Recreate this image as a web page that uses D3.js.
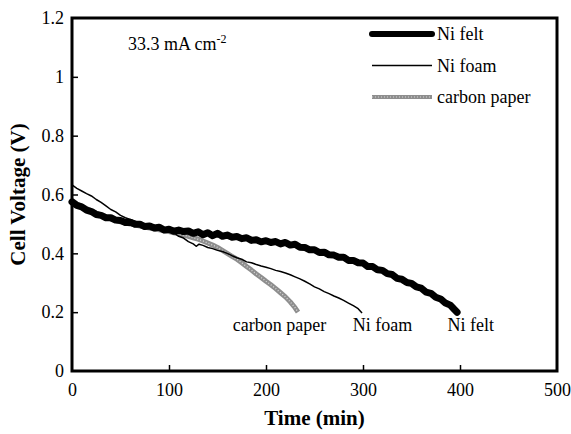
<!DOCTYPE html>
<html>
<head>
<meta charset="utf-8">
<script src="https://cdn.jsdelivr.net/npm/d3@7"></script>
<style>
  body { margin: 0; background: #fff; }
  svg text { font-family: "Liberation Serif", "Times New Roman", serif; fill: #000; }
</style>
</head>
<body>
<svg id="chart" width="571" height="434"></svg>
<script>
// time (min) / cell voltage (V)
const feltT = [0, 5, 10, 15, 20, 25, 30, 35, 40, 45, 50, 55, 60, 65, 70, 75, 80, 85, 90, 95, 100, 105, 110, 115, 120, 125, 130, 135, 140, 145, 150, 155, 160, 165, 170, 175, 180, 185, 190, 195, 200, 205, 210, 215, 220, 225, 230, 235, 240, 245, 250, 255, 260, 265, 270, 275, 280, 285, 290, 295, 300, 305, 310, 315, 320, 325, 330, 335, 340, 345, 350, 355, 360, 365, 370, 375, 380, 385, 390, 394, 397];
const feltV = [0.575, 0.563, 0.558, 0.547, 0.542, 0.532, 0.529, 0.521, 0.521, 0.513, 0.512, 0.505, 0.506, 0.499, 0.499, 0.491, 0.493, 0.486, 0.489, 0.479, 0.482, 0.475, 0.479, 0.474, 0.476, 0.468, 0.473, 0.463, 0.470, 0.460, 0.468, 0.458, 0.462, 0.455, 0.457, 0.450, 0.453, 0.444, 0.446, 0.439, 0.443, 0.437, 0.440, 0.432, 0.437, 0.428, 0.431, 0.421, 0.420, 0.412, 0.412, 0.403, 0.404, 0.395, 0.394, 0.387, 0.387, 0.376, 0.376, 0.368, 0.367, 0.355, 0.355, 0.344, 0.342, 0.331, 0.328, 0.315, 0.312, 0.301, 0.298, 0.286, 0.282, 0.268, 0.264, 0.251, 0.245, 0.231, 0.224, 0.210, 0.200];

const foamT = [0, 5, 10, 15, 20, 25, 30, 35, 40, 45, 50, 55, 60, 65, 70, 75, 80, 85, 90, 95, 100, 105, 110, 115, 120, 125, 128, 131, 135, 140, 145, 150, 155, 160, 165, 170, 175, 180, 185, 190, 195, 200, 205, 210, 215, 220, 225, 230, 235, 240, 245, 250, 255, 260, 265, 270, 275, 280, 285, 290, 295, 299];
const foamV = [0.633, 0.621, 0.612, 0.603, 0.595, 0.583, 0.573, 0.561, 0.549, 0.541, 0.529, 0.521, 0.515, 0.509, 0.503, 0.498, 0.494, 0.489, 0.486, 0.481, 0.478, 0.470, 0.458, 0.452, 0.440, 0.432, 0.424, 0.431, 0.427, 0.420, 0.416, 0.410, 0.406, 0.400, 0.392, 0.385, 0.380, 0.371, 0.368, 0.362, 0.357, 0.353, 0.348, 0.342, 0.338, 0.333, 0.327, 0.320, 0.313, 0.305, 0.296, 0.286, 0.279, 0.270, 0.263, 0.255, 0.248, 0.240, 0.231, 0.222, 0.212, 0.197];

const paperT = [0, 5, 10, 15, 20, 25, 30, 35, 40, 45, 50, 55, 60, 65, 70, 75, 80, 85, 90, 95, 100, 105, 110, 115, 120, 125, 130, 135, 140, 145, 150, 155, 160, 165, 170, 175, 180, 185, 190, 195, 200, 205, 210, 215, 220, 225, 230, 233];
const paperV = [0.580, 0.568, 0.560, 0.552, 0.545, 0.537, 0.530, 0.523, 0.517, 0.512, 0.507, 0.503, 0.500, 0.496, 0.493, 0.489, 0.486, 0.483, 0.480, 0.477, 0.474, 0.470, 0.466, 0.462, 0.458, 0.453, 0.448, 0.442, 0.435, 0.428, 0.420, 0.410, 0.400, 0.390, 0.380, 0.368, 0.355, 0.343, 0.330, 0.318, 0.305, 0.293, 0.280, 0.266, 0.252, 0.235, 0.215, 0.200];

const xTicks = [0, 100, 200, 300, 400, 500];
const yTicks = [0, 0.2, 0.4, 0.6, 0.8, 1, 1.2];
const legendNames = ["Ni felt", "Ni foam", "carbon paper"];
const endLabels = [
  { name: "carbon paper", t: 214 },
  { name: "Ni foam", t: 320 },
  { name: "Ni felt", t: 411 }
];

const serif = '"Liberation Serif", "Times New Roman", serif';

const margin = { top: 18, right: 14, bottom: 63, left: 72 },
      width = 571 - margin.left - margin.right,
      height = 434 - margin.top - margin.bottom;

const svg = d3.select("#chart")
  .append("g")
    .attr("transform", `translate(${margin.left},${margin.top})`);

const x = d3.scaleLinear().domain([0, 500]).range([0, width]);
const y = d3.scaleLinear().domain([0, 1.2]).range([height, 0]);

const xAxis = svg.append("g")
    .attr("transform", `translate(0,${height})`)
    .call(d3.axisBottom(x).tickValues(xTicks).tickSize(-6).tickPadding(12).tickFormat(d => String(d)));
const yAxis = svg.append("g")
    .call(d3.axisLeft(y).tickValues(yTicks).tickSize(-6).tickPadding(8).tickFormat(d => String(d)));

[xAxis, yAxis].forEach(g => {
  g.attr("font-family", serif).attr("font-size", 18);
  g.select(".domain").remove();
  g.selectAll(".tick line").attr("stroke", "#000").attr("stroke-width", 1.5);
  g.selectAll(".tick text").style("font-family", serif).style("font-size", "18px").attr("fill", "#000");
});
xAxis.selectAll(".tick").filter(d => d === 0 || d === 500).select("line").remove();
yAxis.selectAll(".tick").filter(d => d === 0 || d === 1.2).select("line").remove();

const line = d3.line().x(d => x(d[0])).y(d => y(d[1]));
const zip = (ts, vs) => ts.map((t, i) => [t, vs[i]]);

// carbon paper: grey textured band
svg.append("path").datum(zip(paperT, paperV))
    .attr("fill", "none").attr("stroke", "#8e8e8e").attr("stroke-width", 5)
    .attr("stroke-linejoin", "round").attr("d", line);
svg.append("path").datum(zip(paperT, paperV))
    .attr("fill", "none").attr("stroke", "#d6d6d6").attr("stroke-width", 1.4)
    .attr("stroke-dasharray", "1,2").attr("d", line);

svg.append("path").datum(zip(foamT, foamV))
    .attr("fill", "none").attr("stroke", "#000").attr("stroke-width", 1.5)
    .attr("stroke-linejoin", "round").attr("d", line);

svg.append("path").datum(zip(feltT, feltV))
    .attr("fill", "none").attr("stroke", "#000").attr("stroke-width", 7)
    .attr("stroke-linejoin", "round").attr("stroke-linecap", "round").attr("d", line);

// frame
svg.append("rect")
    .attr("width", width).attr("height", height)
    .attr("fill", "none").attr("stroke", "#000").attr("stroke-width", 3);

// legend
const legend = svg.append("g").attr("transform", "translate(300,16)");
legendNames.forEach((name, i) => {
  const g = legend.append("g").attr("transform", `translate(0,${i * 31.5})`);
  if (i === 0) {
    g.append("line").attr("x1", 0).attr("x2", 60).attr("stroke", "#000")
      .attr("stroke-width", 6).attr("stroke-linecap", "round");
  } else if (i === 1) {
    g.append("line").attr("x1", 0).attr("x2", 60).attr("stroke", "#000").attr("stroke-width", 1.5);
  } else {
    g.append("line").attr("x1", 0).attr("x2", 60).attr("stroke", "#8e8e8e").attr("stroke-width", 4);
    g.append("line").attr("x1", 0).attr("x2", 60).attr("stroke", "#d6d6d6")
      .attr("stroke-width", 1.2).attr("stroke-dasharray", "1,2");
  }
  g.append("text").attr("x", 65).attr("y", 6).style("font-size", "18px").text(name);
});

// labels near the curve ends
svg.selectAll(".endlab").data(endLabels).join("text")
    .attr("class", "endlab")
    .attr("x", d => x(d.t)).attr("y", 313)
    .attr("text-anchor", "middle").style("font-size", "18px")
    .text(d => d.name);

// current density note
const note = svg.append("text").attr("x", 56).attr("y", 32).style("font-size", "18px");
note.append("tspan").text("33.3 mA cm");
note.append("tspan").attr("dy", -7).style("font-size", "12px").text("-2");

// axis titles
svg.append("text")
    .attr("x", width / 2).attr("y", height + 54)
    .attr("text-anchor", "middle")
    .style("font-size", "21px").style("font-weight", "bold")
    .text("Time (min)");
svg.append("text")
    .attr("transform", `translate(-47,${height / 2}) rotate(-90)`)
    .attr("text-anchor", "middle")
    .style("font-size", "21px").style("font-weight", "bold")
    .text("Cell Voltage (V)");
</script>
</body>
</html>
